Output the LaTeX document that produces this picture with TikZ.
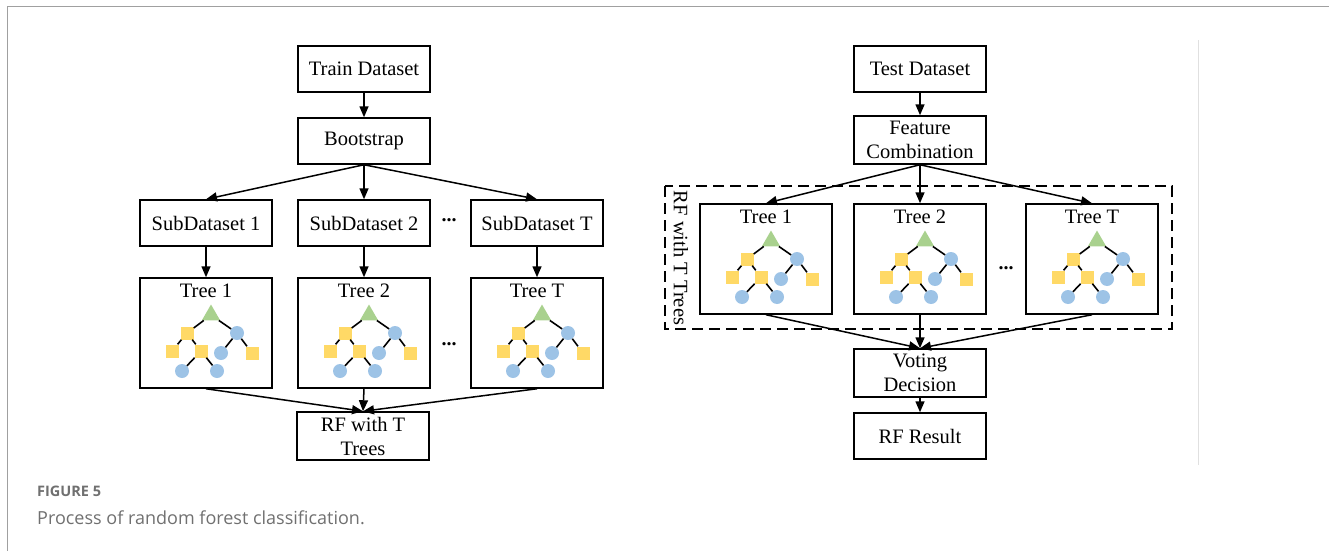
\documentclass[tikz,border=0pt]{standalone}
\usepackage{fontspec}
\setmainfont{Liberation Serif}
\newfontfamily\capfont{Open Sans}
\usetikzlibrary{arrows.meta,positioning,shapes.geometric}
\definecolor{leafyellow}{HTML}{FFD966}
\definecolor{leafblue}{HTML}{9DC3E6}
\definecolor{rootgreen}{HTML}{A9D18E}
\definecolor{capgray}{HTML}{707070}
\definecolor{framegray}{HTML}{A0A0A0}
\tikzset{
	box/.style={draw, line width=1.5pt, minimum width=132, minimum height=46, align=center, inner sep=1pt, font=\fontsize{20.5}{24}\selectfont},
	treebox/.style={draw, line width=1.5pt, minimum width=132, minimum height=110},
	flow/.style={-{Triangle[length=11pt,width=9pt]}, line width=1.5pt},
	branch/.style={line width=1.6pt},
	leafsq/.style={fill=leafyellow, minimum size=13, inner sep=0pt},
	leafci/.style={circle, fill=leafblue, minimum size=14, inner sep=0pt},
	rootnode/.style={regular polygon, regular polygon sides=3, fill=rootgreen, minimum size=21, inner sep=0pt},
	treeicon/.pic={
		\node[rootnode] (r) at (5,-18) {};
		\node[leafsq] (a) at (-19,0) {};
		\node[leafci] (b) at (31,0) {};
		\node[leafsq] (c) at (-34,18) {};
		\node[leafsq] (d) at (-5,18) {};
		\node[leafci] (e) at (15,20) {};
		\node[leafsq] (f) at (46,20) {};
		\node[leafci] (g) at (-24,38) {};
		\node[leafci] (h) at (11,38) {};
		\draw[branch] (r) -- (a) (r) -- (b) (a) -- (c) (a) -- (d) (b) -- (e) (b) -- (f) (d) -- (g) (d) -- (h);
	},
}
\begin{document}
\begin{tikzpicture}[x=1pt, y=-1pt]
	\useasboundingbox (0,0) rectangle (1329,551);
	% frame
	\draw[framegray, line width=1pt] (1329,7) -- (7,7) -- (7,551);
	\draw[black!12, line width=1pt] (1198,40) -- (1198,465);

	% training side
	\node[box] (train) at (364,69) {Train Dataset};
	\node[box] (boot) at (364,141) {Bootstrap};
	\node[box] (sub1) at (206,223) {SubDataset 1};
	\node[box] (sub2) at (364,223) {SubDataset 2};
	\node[box] (subT) at (537,223) {SubDataset T};
	\node[font=\fontsize{20}{24}\selectfont\bfseries] (dotsA) at (449,220) {...};
	\foreach \n/\x/\t in {1/206/Tree 1, 2/364/Tree 2, T/537/Tree T} {
		\node[treebox] (tree\n) at (\x,333) {};
		\node[font=\fontsize{20.5}{24}\selectfont, below=3pt of tree\n.north] (title\n) {\t};
		\pic (icon\n) at (\x,333) {treeicon};
	}
	\node[font=\fontsize{20}{24}\selectfont\bfseries] (dotsB) at (449,344) {...};
	\node[box, minimum height=48] (rf) at (363,436) {RF with T\\Trees};
	\draw[flow] (train) -- (boot);
	\draw[flow] (boot.south) -- (sub1.north);
	\draw[flow] (boot.south) -- (sub2.north);
	\draw[flow] (boot.south) -- (subT.north);
	\foreach \n in {1,2,T} {
		\draw[flow] (sub\n) -- (tree\n);
		\draw[flow] (tree\n.south) -- (rf.north);
	}

	% testing side
	\node[box] (test) at (920,69) {Test Dataset};
	\node[box, minimum height=48] (feat) at (920,140) {Feature\\Combination};
	\draw[dashed, dash pattern=on 11pt off 6pt, line width=1.3pt] (665,186) rectangle (1172,329);
	\node[rotate=-90, font=\fontsize{20.5}{24}\selectfont] (rflabel) at (681,258) {RF with T Trees};
	\foreach \n/\x/\t in {a/766/Tree 1, b/920/Tree 2, c/1092/Tree T} {
		\node[treebox] (vtree\n) at (\x,259) {};
		\node[font=\fontsize{20.5}{24}\selectfont, below=3pt of vtree\n.north] (vtitle\n) {\t};
		\pic (vicon\n) at (\x,259) {treeicon};
	}
	\node[font=\fontsize{20}{24}\selectfont\bfseries] (dotsC) at (1006,268) {...};
	\node[box, minimum height=48] (vote) at (920,373) {Voting\\Decision};
	\node[box] (result) at (920,436) {RF Result};
	\draw[flow] (test) -- (feat);
	\foreach \n in {a,b,c} {
		\draw[flow] (feat.south) -- (vtree\n.north);
		\draw[flow] (vtree\n.south) -- (vote.north);
	}
	\draw[flow] (vote) -- (result);

	% caption
	\node[anchor=west, capgray, inner sep=0pt, font=\capfont\fontsize{14.5}{16}\selectfont\bfseries] (capnum) at (37,491) {FIGURE 5};
	\node[anchor=west, capgray, inner sep=0pt, font=\capfont\fontsize{18}{20}\selectfont] (captext) at (37,518) {Process of random forest classification.};
\end{tikzpicture}
\end{document}
